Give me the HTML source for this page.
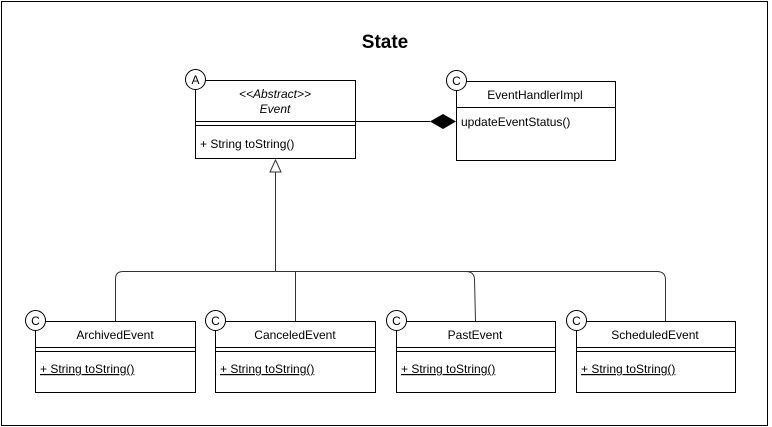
<!DOCTYPE html>
<html><head><style>body{margin:0;background:#fff}svg{display:block}text{font-family:"Liberation Sans",Arial,sans-serif;font-size:12px;fill:#000}</style></head>
<body>
<svg width="772" height="427" viewBox="0 0 772 427" xmlns="http://www.w3.org/2000/svg">
<rect x="1.5" y="1.5" width="766" height="424" fill="#fff" stroke="#000"/>
<text x="385" y="48" text-anchor="middle" style="font-size:19px;font-weight:bold">State</text>
<g fill="none" stroke="#000">
<rect x="195.5" y="80.5" width="160" height="78" fill="#fff"/>
<line x1="195" y1="121.5" x2="355" y2="121.5"/><line x1="195" y1="125.5" x2="355" y2="125.5"/>
<rect x="456.5" y="81.5" width="159" height="79" fill="#fff"/>
<line x1="456" y1="107.5" x2="615" y2="107.5"/>
<line x1="355" y1="121.5" x2="430" y2="121.5"/>
</g>
<polygon points="430,121.5 443,114 456,121.5 443,129" fill="#000"/>
<g fill="none" stroke="#333">
<polygon points="275.5,160 270,172 281,172" fill="#fff"/>
<line x1="275.5" y1="172" x2="275.5" y2="271"/>
<path d="M115.5,321 V279 Q115.5,271.5 123,271.5 H466 Q474,271.5 474.5,279 L475.5,321"/>
<path d="M295.5,271 V321"/>
<path d="M466,271.5 H657 Q665.5,271.5 665.5,280 V321"/>
</g>
<g fill="none" stroke="#000">
<rect x="35.5" y="321.5" width="160" height="71" fill="#fff"/>
<rect x="215.5" y="321.5" width="160" height="71" fill="#fff"/>
<rect x="396.5" y="321.5" width="159" height="71" fill="#fff"/>
<rect x="576.5" y="321.5" width="159" height="71" fill="#fff"/>
<path d="M35,347.5H195M35,351.5H195M215,347.5H375M215,351.5H375M396,347.5H555M396,351.5H555M576,347.5H735M576,351.5H735"/>
</g>
<g fill="#fff" stroke="#000">
<circle cx="195.5" cy="79.5" r="10"/><circle cx="456.5" cy="80.5" r="10"/>
<circle cx="35.5" cy="320.5" r="10"/><circle cx="215.5" cy="320.5" r="10"/>
<circle cx="396.5" cy="320.5" r="10"/><circle cx="576.5" cy="320.5" r="10"/>
</g>
<g text-anchor="middle">
<text x="195.5" y="84">A</text><text x="456.5" y="85">C</text>
<text x="35.5" y="325">C</text><text x="215.5" y="325">C</text><text x="396.5" y="325">C</text><text x="576.5" y="325">C</text>
<text x="275" y="98" font-style="italic">&lt;&lt;Abstract&gt;&gt;</text>
<text x="275" y="113" font-style="italic">Event</text>
<text x="535" y="99">EventHandlerImpl</text>
<text x="115" y="339">ArchivedEvent</text>
<text x="295" y="339">CanceledEvent</text>
<text x="475" y="339">PastEvent</text>
<text x="655" y="339">ScheduledEvent</text>
</g>
<text x="200" y="148">+ String toString()</text>
<text x="461" y="126">updateEventStatus()</text>
<text x="40" y="373" text-decoration="underline">+ String toString()</text>
<text x="220" y="373" text-decoration="underline">+ String toString()</text>
<text x="401" y="373" text-decoration="underline">+ String toString()</text>
<text x="581" y="373" text-decoration="underline">+ String toString()</text>
</svg>
</body></html>
